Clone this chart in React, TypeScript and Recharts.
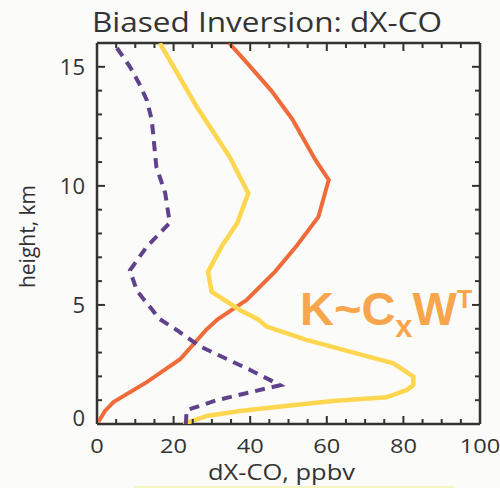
import React from 'react';
import { ScatterChart, Scatter, XAxis, YAxis, ReferenceLine } from 'recharts';

// ---- data ----
const orangeH = [0, 0.55, 0.92, 1.76, 2.72, 3.97, 4.4, 5.2, 6.4, 7.5, 8.7, 10.25, 11.1, 12.8, 14, 15.1, 16];
const orangeX = [0, 2.1, 4.3, 13, 21.7, 28.6, 31.5, 39, 46.5, 52.2, 57.8, 60.5, 57, 51, 45.5, 39.5, 34.5];

const yellowH = [0, 0.34, 0.55, 0.75, 0.97, 1.12, 1.43, 1.64, 1.99, 2.55, 3.0, 3.53, 4.09, 4.4, 4.79, 5.56, 6.4, 7.45, 8.43, 9.69, 11.2, 13.33, 16];
const yellowX = [22.5, 28.7, 37.3, 48.6, 61.6, 75.6, 80.9, 82.6, 82.6, 77.4, 67, 54.7, 44.3, 42, 37.3, 29.9, 29, 32.5, 36.6, 39.5, 34.7, 26, 16.4];

const purpleH = [0, 0.58, 1.0, 1.63, 2.27, 3.25, 3.95, 4.4, 5.6, 6.45, 7.45, 8.45, 9.7, 10.8, 12.77, 13.6, 14.3, 15.0, 16];
const purpleX = [23.2, 23.4, 31.3, 47.8, 40, 27, 20.8, 16.4, 10.4, 8.6, 13, 19, 17.8, 15.5, 14.3, 13, 11, 8.6, 4.3];

const xTicks = [0, 5, 10, 15, 20, 25, 30, 35, 40, 45, 50, 55, 60, 65, 70, 75, 80, 85, 90, 95, 100];
const yTicks = [0, 1, 2, 3, 4, 5, 6, 7, 8, 9, 10, 11, 12, 13, 14, 15, 16];

const toPts = (hs: number[], xs: number[]) => hs.map((h, i) => ({ x: xs[i], h }));
const orangeData = toPts(orangeH, orangeX);
const yellowData = toPts(yellowH, yellowX);
const purpleData = toPts(purpleH, purpleX);

// ---- layout ----
const MARGIN = { top: 43, right: 20, bottom: 0, left: 0 };
const CHART_W = 500;
const PLOT_TOP = MARGIN.top;
const PLOT_RIGHT = CHART_W - MARGIN.right;

const AX = '#333333';
const FONT = '"Open Sans", sans-serif';

const BottomTick = (p: any) => {
  const { x, y, payload } = p;
  const v = payload.value;
  const major = v % 20 === 0;
  const len = major ? 8 : 5;
  const s = String(v);
  return (
    <g>
      <line x1={x} x2={x} y1={y} y2={y - len} stroke={AX} strokeWidth={2} />
      <line x1={x} x2={x} y1={PLOT_TOP} y2={PLOT_TOP + len} stroke={AX} strokeWidth={2} />
      {major && (
        <text
          x={x}
          y={y + 29}
          textAnchor="middle"
          fontFamily={FONT}
          fontSize={20}
          fill={AX}
          textLength={s.length * 13.5}
          lengthAdjust="spacingAndGlyphs"
        >
          {s}
        </text>
      )}
    </g>
  );
};

const LeftTick = (p: any) => {
  const { x, y, payload } = p;
  const v = payload.value;
  const major = v % 5 === 0;
  const len = major ? 8 : 5;
  return (
    <g>
      <line x1={x} x2={x + len} y1={y} y2={y} stroke={AX} strokeWidth={2} />
      <line x1={PLOT_RIGHT} x2={PLOT_RIGHT - len} y1={y} y2={y} stroke={AX} strokeWidth={2} />
      {major && v <= 15 && (
        <text x={x - 12} y={y + 8 - (v === 0 ? 6 : 0)} textAnchor="end" fontFamily={FONT} fontSize={22} fill={AX}>
          {v}
        </text>
      )}
    </g>
  );
};

const NoDot = () => <g />;

export default function App() {
  return (
    <div style={{ position: 'absolute', left: 0, top: 0, width: 500, height: 488, background: '#fbfbf9' }}>
      <ScatterChart width={CHART_W} height={488} margin={MARGIN}>
        <XAxis
          type="number"
          dataKey="x"
          domain={[0, 100]}
          ticks={xTicks}
          interval={0}
          allowDataOverflow
          height={64}
          tickSize={0}
          tickMargin={0}
          tickLine={false}
          tick={<BottomTick />}
          axisLine={{ stroke: AX, strokeWidth: 2.5 }}
        />
        <YAxis
          type="number"
          dataKey="h"
          domain={[0, 16]}
          ticks={yTicks}
          interval={0}
          allowDataOverflow
          width={97}
          tickSize={0}
          tickMargin={0}
          tickLine={false}
          tick={<LeftTick />}
          axisLine={{ stroke: AX, strokeWidth: 2.5 }}
        />
        <ReferenceLine y={16} stroke={AX} strokeWidth={2.5} />
        <ReferenceLine x={100} stroke={AX} strokeWidth={2.5} />
        <Scatter
          data={orangeData}
          fill="#ef6b3a"
          line={{ stroke: '#ef6b3a', strokeWidth: 4 }}
          shape={NoDot}
          isAnimationActive={false}
        />
        <Scatter
          data={yellowData}
          fill="#fed64f"
          line={{ stroke: '#fed64f', strokeWidth: 4.5 }}
          shape={NoDot}
          isAnimationActive={false}
        />
        <Scatter
          data={purpleData}
          fill="#5f418c"
          line={{ stroke: '#5f418c', strokeWidth: 4, strokeDasharray: '10 7' }}
          shape={NoDot}
          isAnimationActive={false}
        />
      </ScatterChart>
      <svg
        width={500}
        height={488}
        style={{ position: 'absolute', left: 0, top: 0, pointerEvents: 'none' }}
      >
        <text
          x={267}
          y={32}
          textAnchor="middle"
          fontFamily={FONT}
          fontSize={28}
          fill={AX}
          textLength={350}
          lengthAdjust="spacingAndGlyphs"
        >
          Biased Inversion: dX-CO
        </text>
        <text
          x={281.5}
          y={480}
          textAnchor="middle"
          fontFamily={FONT}
          fontSize={21}
          fill={AX}
          textLength={147}
          lengthAdjust="spacingAndGlyphs"
        >
          dX-CO, ppbv
        </text>
        <text
          x={35}
          y={236.5}
          transform="rotate(-90 35 236.5)"
          textAnchor="middle"
          fontFamily={FONT}
          fontSize={21}
          fill={AX}
        >
          height, km
        </text>
        <text x={300} y={325} fontFamily='"Liberation Sans", Arial, sans-serif' fontWeight="bold" fontSize={47} fill="#f7a64c">
          K~C
          <tspan fontSize={31} dy={12}>x</tspan>
          <tspan fontSize={47} dy={-12}>W</tspan>
          <tspan fontSize={25} dy={-17}>T</tspan>
        </text>
        <rect x={134} y={486} width={321} height={2} fill="#f4f6c4" />
      </svg>
    </div>
  );
}
